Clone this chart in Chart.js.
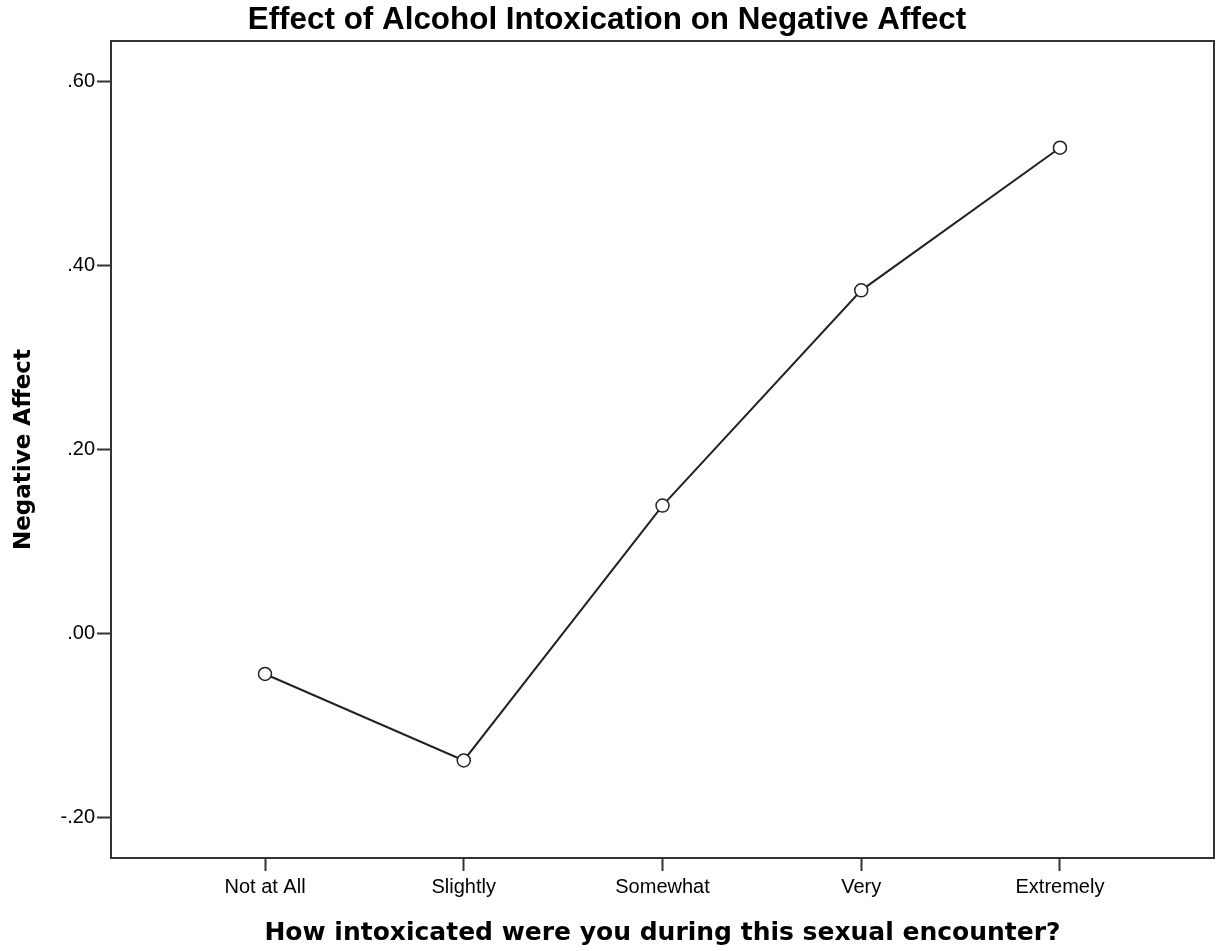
<!DOCTYPE html>
<html lang="en">
<head>
    <meta charset="UTF-8" />
    <title>Effect of Alcohol Intoxication on Negative Affect</title>
    <script src="https://cdn.jsdelivr.net/npm/chart.js"></script>
    <style>
        body {
            margin: 0;
            padding: 0;
            background: #fff;
        }

        .chart-container {
            width: 1217px;
            height: 951px;
        }
    </style>
</head>
<body>
    <div class="chart-container">
        <canvas id="lineChart" width="1217" height="951"></canvas>
    </div>

    <script>
        const categories = ['Not at All', 'Slightly', 'Somewhat', 'Very', 'Extremely'];
        const negativeAffect = [-0.044, -0.138, 0.139, 0.373, 0.528];
        const yTicks = [-0.2, 0, 0.2, 0.4, 0.6];

        const frameColor = '#333';

        // box round the plot area
        const frame = {
            id: 'frame',
            afterDraw(chart) {
                const { ctx, chartArea: a } = chart;
                ctx.save();
                ctx.strokeStyle = frameColor;
                ctx.lineWidth = 2;
                ctx.strokeRect(a.left, a.top, a.right - a.left, a.bottom - a.top);
                ctx.restore();
            }
        };

        const fmt = v => v.toFixed(2).replace(/^(-?)0\./, '$1.');

        const ctx = document.getElementById('lineChart').getContext('2d');

        new Chart(ctx, {
            type: 'line',
            data: {
                datasets: [{
                    label: 'Negative Affect',
                    data: categories.map((c, i) => ({ x: i, y: negativeAffect[i] })),
                    borderColor: '#222',
                    borderWidth: 2,
                    pointRadius: 6.5,
                    pointBorderWidth: 1.5,
                    pointBorderColor: '#222',
                    pointBackgroundColor: '#fff',
                    fill: false,
                    tension: 0
                }]
            },
            options: {
                responsive: false,
                animation: false,
                // autoPadding adds room for the point radius on every side, not wanted here
                layout: { autoPadding: false, padding: { left: 0, right: 3, top: 0, bottom: 0 } },
                plugins: {
                    legend: { display: false },
                    tooltip: { enabled: false },
                    title: {
                        display: true,
                        text: 'Effect of Alcohol Intoxication on Negative Affect',
                        color: '#000',
                        font: { family: 'Liberation Sans, Arial, sans-serif', size: 31.4, weight: 'bold', lineHeight: 1 },
                        padding: { top: 4.3, bottom: 5.3 }
                    }
                },
                scales: {
                    x: {
                        type: 'linear',
                        min: -0.775,
                        max: 4.775,
                        afterFit(scale) {
                            scale.height = 93;
                            scale.paddingLeft = 0;
                            scale.paddingRight = 0;
                        },
                        afterBuildTicks(scale) {
                            scale.ticks = categories.map((c, i) => ({ value: i }));
                        },
                        ticks: {
                            color: '#000',
                            font: { family: 'Liberation Sans, Arial, sans-serif', size: 20 },
                            padding: 4,
                            maxRotation: 0,
                            callback: v => categories[v]
                        },
                        grid: {
                            drawOnChartArea: false,
                            tickLength: 13,
                            tickWidth: 2,
                            tickColor: frameColor
                        },
                        border: { display: true, color: frameColor, width: 2 },
                        title: {
                            display: true,
                            text: 'How intoxicated were you during this sexual encounter?',
                            color: '#000',
                            font: { family: 'DejaVu Sans, Verdana, sans-serif', size: 25, weight: 'bold' },
                            padding: { top: 0, bottom: 2.5 }
                        }
                    },
                    y: {
                        min: -0.244,
                        max: 0.644,
                        afterFit(scale) { scale.width = 111; },
                        afterBuildTicks(scale) {
                            scale.ticks = yTicks.map(v => ({ value: v }));
                        },
                        ticks: {
                            color: '#000',
                            font: { family: 'Liberation Sans, Arial, sans-serif', size: 20 },
                            padding: 2,
                            callback: v => fmt(v)
                        },
                        grid: {
                            drawOnChartArea: false,
                            tickLength: 14,
                            tickWidth: 2,
                            tickColor: frameColor
                        },
                        border: { display: true, color: frameColor, width: 2 },
                        title: {
                            display: true,
                            text: 'Negative Affect',
                            color: '#000',
                            font: { family: 'DejaVu Sans, Verdana, sans-serif', size: 23, weight: 'bold' },
                            padding: { top: 10, bottom: 0 }
                        }
                    }
                }
            },
            plugins: [frame]
        });
    </script>
</body>
</html>
